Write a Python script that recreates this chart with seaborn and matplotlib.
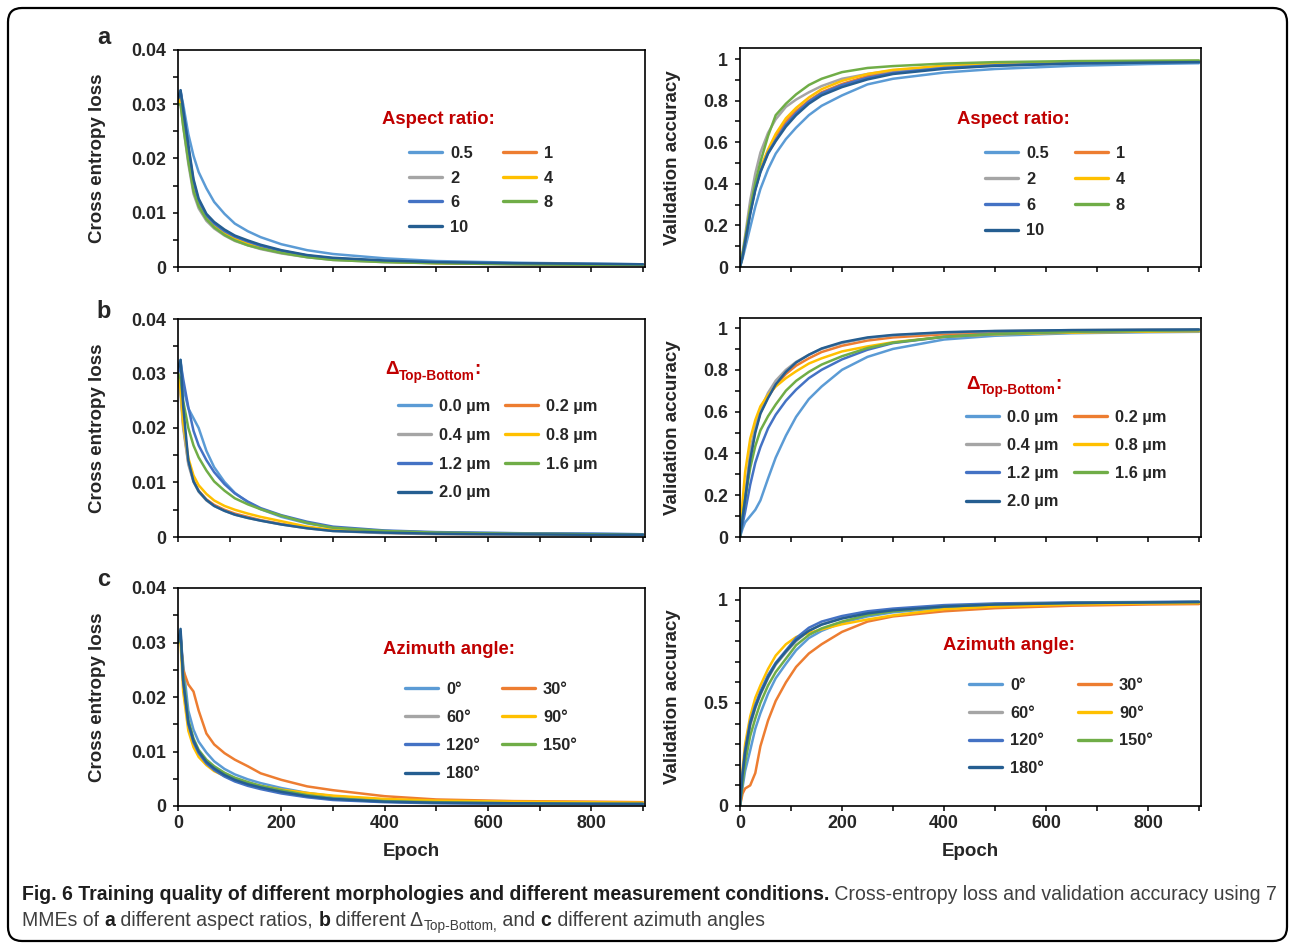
import matplotlib
matplotlib.use("Agg")
import matplotlib.pyplot as plt
import pandas as pd
import seaborn as sns
from matplotlib.ticker import MultipleLocator, FuncFormatter
from matplotlib.patches import FancyBboxPatch
from matplotlib.transforms import IdentityTransform

# ---------------------------------------------------------------- data
EPOCHS = [0, 5, 10, 20, 30, 40, 55, 70, 90, 110, 135, 160, 200, 250, 300,
          400, 500, 650, 800, 900]

PALETTE = ["#5B9BD5", "#ED7D31", "#A5A5A5", "#FFC000", "#4472C4", "#70AD47", "#255E91"]

ASPECT_LABELS = ["0.5", "1", "2", "4", "6", "8", "10"]
DELTA_LABELS = ["0.0 µm", "0.2 µm", "0.4 µm", "0.8 µm", "1.2 µm", "1.6 µm", "2.0 µm"]
AZIMUTH_LABELS = ["0°", "30°", "60°", "90°", "120°", "150°", "180°"]

# cross-entropy loss, aspect ratio series (one row per label)
LOSS_ASPECT = [
    [0.030, 0.0322, 0.030, 0.0245, 0.0205, 0.0175, 0.0145, 0.0120, 0.0098, 0.0080, 0.0066, 0.0055, 0.0042, 0.0031, 0.0024, 0.0016, 0.0011, 0.0008, 0.0006, 0.0005],
    [0.030, 0.032, 0.028, 0.021, 0.0152, 0.0119, 0.0093, 0.0078, 0.0064, 0.0054, 0.0045, 0.0038, 0.0029, 0.0021, 0.0015, 0.0010, 0.0008, 0.0006, 0.0005, 0.0004],
    [0.030, 0.030, 0.026, 0.019, 0.0135, 0.0108, 0.0085, 0.0071, 0.0058, 0.0048, 0.0040, 0.0033, 0.0025, 0.0018, 0.0013, 0.0009, 0.0007, 0.0005, 0.0004, 0.0004],
    [0.030, 0.031, 0.027, 0.021, 0.0148, 0.0116, 0.0091, 0.0076, 0.0062, 0.0052, 0.0043, 0.0036, 0.0028, 0.0020, 0.0015, 0.0010, 0.0007, 0.0006, 0.0005, 0.0004],
    [0.031, 0.0325, 0.029, 0.022, 0.0158, 0.0122, 0.0095, 0.0080, 0.0066, 0.0056, 0.0047, 0.0039, 0.0030, 0.0021, 0.0016, 0.0011, 0.0008, 0.0006, 0.0005, 0.0004],
    [0.030, 0.030, 0.026, 0.0195, 0.0140, 0.0112, 0.0088, 0.0073, 0.0059, 0.0049, 0.0040, 0.0034, 0.0026, 0.0018, 0.0013, 0.0009, 0.0007, 0.0005, 0.0004, 0.0004],
    [0.031, 0.0326, 0.029, 0.0225, 0.0162, 0.0126, 0.0098, 0.0083, 0.0069, 0.0058, 0.0049, 0.0041, 0.0031, 0.0022, 0.0017, 0.0012, 0.0009, 0.0007, 0.0006, 0.0005],
]

# validation accuracy, aspect ratio series
ACC_ASPECT = [
    [0, 0.04, 0.09, 0.19, 0.29, 0.375, 0.47, 0.545, 0.615, 0.67, 0.73, 0.775, 0.825, 0.878, 0.905, 0.935, 0.952, 0.967, 0.976, 0.98],
    [0, 0.06, 0.12, 0.27, 0.38, 0.465, 0.555, 0.63, 0.70, 0.75, 0.80, 0.84, 0.88, 0.918, 0.94, 0.962, 0.973, 0.982, 0.987, 0.988],
    [0, 0.07, 0.15, 0.32, 0.45, 0.55, 0.645, 0.71, 0.77, 0.805, 0.84, 0.87, 0.905, 0.928, 0.945, 0.965, 0.975, 0.984, 0.988, 0.99],
    [0, 0.06, 0.13, 0.28, 0.39, 0.475, 0.565, 0.64, 0.715, 0.765, 0.815, 0.855, 0.895, 0.928, 0.948, 0.968, 0.977, 0.985, 0.989, 0.99],
    [0, 0.05, 0.12, 0.26, 0.375, 0.46, 0.55, 0.61, 0.685, 0.74, 0.795, 0.835, 0.875, 0.91, 0.933, 0.957, 0.97, 0.98, 0.985, 0.987],
    [0, 0.06, 0.13, 0.28, 0.405, 0.505, 0.63, 0.73, 0.785, 0.83, 0.875, 0.905, 0.937, 0.957, 0.966, 0.978, 0.985, 0.99, 0.992, 0.993],
    [0, 0.05, 0.12, 0.255, 0.37, 0.455, 0.545, 0.605, 0.675, 0.73, 0.785, 0.825, 0.865, 0.902, 0.928, 0.953, 0.967, 0.978, 0.983, 0.985],
]

# cross-entropy loss, top-bottom difference series
LOSS_DELTA = [
    [0.030, 0.0325, 0.0275, 0.0236, 0.0218, 0.0200, 0.0158, 0.0128, 0.0101, 0.0081, 0.0064, 0.0051, 0.0037, 0.0025, 0.0017, 0.0011, 0.0008, 0.0007, 0.0006, 0.0005],
    [0.030, 0.027, 0.0205, 0.0136, 0.0104, 0.0085, 0.0069, 0.0059, 0.0050, 0.0043, 0.0037, 0.0031, 0.0024, 0.0017, 0.0012, 0.0008, 0.0006, 0.0005, 0.0004, 0.0004],
    [0.030, 0.026, 0.020, 0.0133, 0.0101, 0.0083, 0.0067, 0.0057, 0.0048, 0.0041, 0.0035, 0.0030, 0.0023, 0.0016, 0.0011, 0.0007, 0.0005, 0.0004, 0.0004, 0.0003],
    [0.030, 0.027, 0.021, 0.0145, 0.0113, 0.0095, 0.0079, 0.0067, 0.0057, 0.0050, 0.0043, 0.0037, 0.0029, 0.0019, 0.0013, 0.0009, 0.0007, 0.0006, 0.0005, 0.0004],
    [0.030, 0.032, 0.029, 0.0238, 0.0195, 0.0168, 0.0141, 0.0119, 0.0097, 0.0080, 0.0065, 0.0053, 0.0040, 0.0028, 0.0019, 0.0012, 0.0009, 0.0007, 0.0006, 0.0005],
    [0.030, 0.029, 0.025, 0.0200, 0.0168, 0.0146, 0.0122, 0.0102, 0.0085, 0.0071, 0.0060, 0.0051, 0.0039, 0.0026, 0.0017, 0.0011, 0.0008, 0.0006, 0.0005, 0.0004],
    [0.031, 0.0325, 0.024, 0.0140, 0.0102, 0.0084, 0.0068, 0.0057, 0.0048, 0.0041, 0.0035, 0.0030, 0.0023, 0.0016, 0.0011, 0.0008, 0.0006, 0.0005, 0.0004, 0.0004],
]

# validation accuracy, top-bottom difference series
ACC_DELTA = [
    [0, 0.04, 0.07, 0.10, 0.13, 0.175, 0.28, 0.38, 0.485, 0.575, 0.66, 0.72, 0.80, 0.862, 0.90, 0.945, 0.963, 0.975, 0.98, 0.982],
    [0, 0.09, 0.18, 0.38, 0.51, 0.595, 0.67, 0.725, 0.78, 0.82, 0.855, 0.885, 0.915, 0.94, 0.955, 0.97, 0.978, 0.985, 0.988, 0.99],
    [0, 0.10, 0.20, 0.41, 0.53, 0.61, 0.69, 0.748, 0.80, 0.838, 0.872, 0.90, 0.928, 0.952, 0.965, 0.978, 0.985, 0.99, 0.992, 0.993],
    [0, 0.17, 0.31, 0.47, 0.56, 0.625, 0.68, 0.72, 0.76, 0.793, 0.83, 0.855, 0.888, 0.912, 0.932, 0.958, 0.97, 0.978, 0.983, 0.985],
    [0, 0.06, 0.12, 0.25, 0.355, 0.43, 0.52, 0.585, 0.652, 0.705, 0.76, 0.80, 0.85, 0.896, 0.928, 0.958, 0.972, 0.982, 0.987, 0.99],
    [0, 0.10, 0.18, 0.33, 0.435, 0.51, 0.578, 0.634, 0.70, 0.747, 0.79, 0.825, 0.865, 0.904, 0.93, 0.958, 0.972, 0.982, 0.987, 0.99],
    [0, 0.09, 0.18, 0.37, 0.50, 0.59, 0.665, 0.73, 0.79, 0.835, 0.872, 0.902, 0.932, 0.955, 0.967, 0.98, 0.986, 0.99, 0.992, 0.993],
]

# cross-entropy loss, azimuth angle series
LOSS_AZIMUTH = [
    [0.030, 0.031, 0.026, 0.0175, 0.0140, 0.0118, 0.0098, 0.0082, 0.0068, 0.0058, 0.0049, 0.0042, 0.0033, 0.0024, 0.0018, 0.0011, 0.0008, 0.0006, 0.0005, 0.0004],
    [0.030, 0.031, 0.025, 0.0223, 0.0210, 0.0175, 0.0133, 0.0113, 0.0097, 0.0085, 0.0073, 0.0060, 0.0048, 0.0036, 0.0029, 0.0018, 0.0012, 0.0009, 0.0008, 0.0007],
    [0.030, 0.031, 0.023, 0.0152, 0.0118, 0.0098, 0.0080, 0.0068, 0.0056, 0.0047, 0.0039, 0.0033, 0.0025, 0.0017, 0.0012, 0.0008, 0.0006, 0.0005, 0.0004, 0.0004],
    [0.030, 0.030, 0.021, 0.0138, 0.0108, 0.0090, 0.0075, 0.0064, 0.0055, 0.0048, 0.0042, 0.0037, 0.0030, 0.0024, 0.0019, 0.0013, 0.0010, 0.0008, 0.0007, 0.0006],
    [0.030, 0.032, 0.023, 0.0150, 0.0117, 0.0097, 0.0078, 0.0066, 0.0054, 0.0045, 0.0037, 0.0031, 0.0023, 0.0016, 0.0011, 0.0007, 0.0005, 0.0004, 0.0004, 0.0003],
    [0.030, 0.031, 0.024, 0.0158, 0.0124, 0.0103, 0.0085, 0.0073, 0.0061, 0.0052, 0.0044, 0.0037, 0.0029, 0.0020, 0.0014, 0.0009, 0.0007, 0.0005, 0.0004, 0.0004],
    [0.030, 0.0325, 0.023, 0.0153, 0.0120, 0.0100, 0.0081, 0.0069, 0.0057, 0.0048, 0.0040, 0.0034, 0.0026, 0.0018, 0.0013, 0.0008, 0.0006, 0.0005, 0.0004, 0.0004],
]

# validation accuracy, azimuth angle series
ACC_AZIMUTH = [
    [0, 0.09, 0.17, 0.27, 0.375, 0.45, 0.545, 0.62, 0.69, 0.756, 0.815, 0.85, 0.89, 0.92, 0.94, 0.962, 0.973, 0.981, 0.985, 0.987],
    [0, 0.06, 0.085, 0.10, 0.16, 0.29, 0.415, 0.51, 0.60, 0.675, 0.74, 0.785, 0.845, 0.895, 0.92, 0.945, 0.96, 0.972, 0.978, 0.98],
    [0, 0.14, 0.25, 0.39, 0.475, 0.54, 0.62, 0.685, 0.745, 0.80, 0.85, 0.882, 0.912, 0.937, 0.952, 0.97, 0.98, 0.986, 0.989, 0.99],
    [0, 0.18, 0.30, 0.435, 0.525, 0.585, 0.665, 0.73, 0.785, 0.82, 0.84, 0.857, 0.882, 0.905, 0.925, 0.955, 0.968, 0.978, 0.983, 0.985],
    [0, 0.16, 0.27, 0.41, 0.49, 0.555, 0.635, 0.695, 0.755, 0.815, 0.865, 0.895, 0.922, 0.945, 0.958, 0.975, 0.983, 0.988, 0.99, 0.992],
    [0, 0.11, 0.21, 0.34, 0.425, 0.50, 0.585, 0.65, 0.715, 0.78, 0.83, 0.862, 0.895, 0.927, 0.945, 0.967, 0.978, 0.985, 0.988, 0.99],
    [0, 0.15, 0.26, 0.40, 0.48, 0.545, 0.625, 0.69, 0.75, 0.805, 0.85, 0.88, 0.91, 0.935, 0.95, 0.968, 0.978, 0.985, 0.988, 0.99],
]

# ---------------------------------------------------------------- style
sns.set_theme(style="white")
plt.rcParams["font.family"] = ["Liberation Sans", "DejaVu Sans"]
plt.rcParams["font.weight"] = "bold"
plt.rcParams["axes.labelweight"] = "bold"

W, H = 1290, 947
TITLE_RED = "#C00000"


def fx(px):
    return px / W


def fy(py):
    return 1 - py / H


fig = plt.figure(figsize=(W / 100, H / 100), dpi=100)
fig.patch.set_facecolor("white")
# transparent overlay used for free-standing text
overlay = fig.add_axes([0, 0, 1, 1], zorder=20)
overlay.axis("off")
overlay.patch.set_alpha(0)


def long_frame(values, labels):
    rows = []
    for lab, ys in zip(labels, values):
        for e, v in zip(EPOCHS, ys):
            rows.append({"Epoch": e, "value": v, "series": lab})
    return pd.DataFrame(rows)


def make_axes(x0, x1, top, bottom):
    return fig.add_axes([fx(x0), fy(bottom), (x1 - x0) / W, (bottom - top) / H])


def style_axes(ax, ymax, ymajor, yminor, show_x):
    ax.set_xlim(0, 904)
    ax.set_ylim(0, ymax)
    ax.xaxis.set_major_locator(MultipleLocator(200))
    ax.xaxis.set_minor_locator(MultipleLocator(100))
    ax.yaxis.set_major_locator(MultipleLocator(ymajor))
    ax.yaxis.set_minor_locator(MultipleLocator(yminor))
    ax.yaxis.set_major_formatter(FuncFormatter(lambda v, p: f"{v:g}"))
    ax.xaxis.set_major_formatter(FuncFormatter(lambda v, p: f"{v:g}"))
    for sp in ax.spines.values():
        sp.set_visible(True)
        sp.set_color("black")
        sp.set_linewidth(1.2)
    ax.tick_params(axis="both", which="both", direction="out", length=3.8,
                   width=1.1, color="black", top=False, right=False,
                   left=True, bottom=True)
    ax.tick_params(axis="y", which="major", labelsize=12.8, pad=5)
    ax.tick_params(axis="x", which="major", labelsize=12.8, pad=3)
    for t in ax.get_xticklabels() + ax.get_yticklabels():
        t.set_fontweight("bold")
    if not show_x:
        ax.tick_params(axis="x", which="both", labelbottom=False)
        ax.set_xlabel("")
    else:
        ax.set_xlabel("Epoch", fontsize=13.5, fontweight="bold")
        ax.xaxis.set_label_coords(0.5, -0.17)


def draw_panel(ax, values, labels):
    df = long_frame(values, labels)
    sns.lineplot(data=df, x="Epoch", y="value", hue="series", hue_order=labels,
                 palette=PALETTE, estimator=None, sort=False, lw=1.8,
                 legend=False, ax=ax)
    return ax.get_lines()[:len(labels)]


def add_legend(ax, handles, labels, line_x, row_y, col2_x, spacing):
    order1 = [0, 2, 4, 6]
    order2 = [1, 3, 5]
    common = dict(loc="upper left", frameon=False, borderpad=0,
                  borderaxespad=0, handlelength=2.0, handletextpad=0.5,
                  labelspacing=spacing, bbox_transform=fig.transFigure,
                  prop={"weight": "bold", "size": 11.8})
    leg1 = ax.legend([handles[i] for i in order1], [labels[i] for i in order1],
                     bbox_to_anchor=(fx(line_x), fy(row_y - 6)), **common)
    for ln in leg1.get_lines():
        ln.set_linewidth(2.4)
    ax.add_artist(leg1)
    leg2 = ax.legend([handles[i] for i in order2], [labels[i] for i in order2],
                     bbox_to_anchor=(fx(col2_x), fy(row_y - 6)), **common)
    for ln in leg2.get_lines():
        ln.set_linewidth(2.4)


def plain_title(text, px, py):
    overlay.text(fx(px), fy(py), text, color=TITLE_RED, fontsize=13.3,
                 fontweight="bold", ha="left", va="center",
                 transform=fig.transFigure)


def delta_title(px, py):
    t1 = overlay.text(fx(px), fy(py), "Δ", color=TITLE_RED, fontsize=13.5,
                      fontweight="bold", ha="left", va="center",
                      transform=fig.transFigure)
    t2 = overlay.annotate("Top-Bottom", xy=(1, 0.15), xycoords=t1,
                          color=TITLE_RED, fontsize=9.8, fontweight="bold",
                          ha="left", va="center")
    overlay.annotate(":", xy=(1, 0), xycoords=(t2, t1), color=TITLE_RED,
                     fontsize=13.5, fontweight="bold", ha="left", va="bottom")


# ---------------------------------------------------------------- panels
LX0, LX1 = 178, 645
RX0, RX1 = 740, 1201

panels = [
    # (left top, left bottom, right top, right bottom, right ymax, right major, labels, loss, acc, show_x)
    (50, 267, 48, 267, 1.053, 0.2, ASPECT_LABELS, LOSS_ASPECT, ACC_ASPECT, False),
    (319, 537, 318, 537, 1.048, 0.2, DELTA_LABELS, LOSS_DELTA, ACC_DELTA, False),
    (588, 806, 588, 806, 1.058, 0.5, AZIMUTH_LABELS, LOSS_AZIMUTH, ACC_AZIMUTH, True),
]

legend_pos = [
    # left: line x, row1 y, col2 x, spacing ; right: same
    ((409, 152, 503, 0.58), (985, 152, 1075, 0.66)),
    ((398, 405, 505, 0.84), (966, 416, 1074, 0.80)),
    ((405, 688, 502, 0.80), (969, 684, 1078, 0.77)),
]

for i, (lt, lb, rt, rb, rymax, rmaj, labels, loss, acc, show_x) in enumerate(panels):
    axl = make_axes(LX0, LX1, lt, lb)
    hl = draw_panel(axl, loss, labels)
    style_axes(axl, 0.04, 0.01, 0.005, show_x)
    axl.set_ylabel("Cross entropy loss", fontsize=13.5, fontweight="bold")
    axl.yaxis.set_label_coords(-0.154, 0.5)

    axr = make_axes(RX0, RX1, rt, rb)
    hr = draw_panel(axr, acc, labels)
    style_axes(axr, rymax, rmaj, 0.1, show_x)
    axr.set_ylabel("Validation accuracy", fontsize=13.5, fontweight="bold")
    axr.yaxis.set_label_coords(-0.128, 0.5)

    (a, b, c, s), (d, e, f, g) = legend_pos[i]
    add_legend(axl, hl, labels, a, b, c, s)
    add_legend(axr, hr, labels, d, e, f, g)

plain_title("Aspect ratio:", 382, 119)
plain_title("Aspect ratio:", 957, 119)
delta_title(385, 370)
delta_title(966, 384)
plain_title("Azimuth angle:", 383, 649)
plain_title("Azimuth angle:", 943, 645)

for letter, py in (("a", 38), ("b", 311), ("c", 579)):
    overlay.text(fx(104), fy(py), letter, fontsize=17, fontweight="bold",
                 ha="center", va="center", transform=fig.transFigure)

# ---------------------------------------------------------------- caption
CAP_FONT = ["Liberation Sans Narrow", "Liberation Sans", "DejaVu Sans"]
CAP_DARK = "#1e1e1e"
CAP_GREY = "#3f3f3f"


def chain(pieces, px, py, fs):
    arts = []
    s0, w0, c0 = pieces[0]
    first = overlay.text(fx(px), fy(py), s0, fontsize=fs, fontweight=w0,
                         color=c0, family=CAP_FONT, ha="left", va="center",
                         transform=fig.transFigure)
    arts.append(first)
    prev = first
    for s, w, col, sub in pieces[1:]:
        if sub:
            a = overlay.annotate(s, xy=(1, 0.2), xycoords=(prev, first),
                                 fontsize=fs * 0.7, fontweight=w, color=col,
                                 family=CAP_FONT, ha="left", va="center")
        else:
            a = overlay.annotate(s, xy=(1, 0), xycoords=(prev, first),
                                 fontsize=fs, fontweight=w, color=col,
                                 family=CAP_FONT, ha="left", va="bottom")
        arts.append(a)
        prev = a
    return arts


def caption(fs):
    line1 = [("Fig. 6 Training quality of different morphologies and different measurement conditions.", "bold", CAP_DARK),
             (" Cross-entropy loss and validation accuracy using 7", "normal", CAP_GREY, False)]
    line2 = [("MMEs of ", "normal", CAP_GREY),
             ("a", "bold", CAP_DARK, False),
             (" different aspect ratios, ", "normal", CAP_GREY, False),
             ("b", "bold", CAP_DARK, False),
             (" different Δ", "normal", CAP_GREY, False),
             ("Top-Bottom,", "normal", CAP_GREY, True),
             (" and ", "normal", CAP_GREY, False),
             ("c", "bold", CAP_DARK, False),
             (" different azimuth angles", "normal", CAP_GREY, False)]
    return chain(line1, 22, 894, fs) + chain(line2, 22, 920, fs)


# size the caption so the first line spans the framed width
cap_fs = 13.0
for _ in range(3):
    arts = caption(cap_fs)
    fig.canvas.draw()
    rend = fig.canvas.get_renderer()
    right = arts[1].get_window_extent(rend).x1
    for a in arts:
        a.remove()
    cap_fs *= (1276 - 22) / (right - 22)
caption(cap_fs)

border = FancyBboxPatch((8, 6), 1279, 933, boxstyle="round,pad=0,rounding_size=14",
                        transform=IdentityTransform(), fill=False,
                        edgecolor="black", linewidth=1.6)
fig.add_artist(border)

fig.savefig("out.png", dpi=100, facecolor="white")
